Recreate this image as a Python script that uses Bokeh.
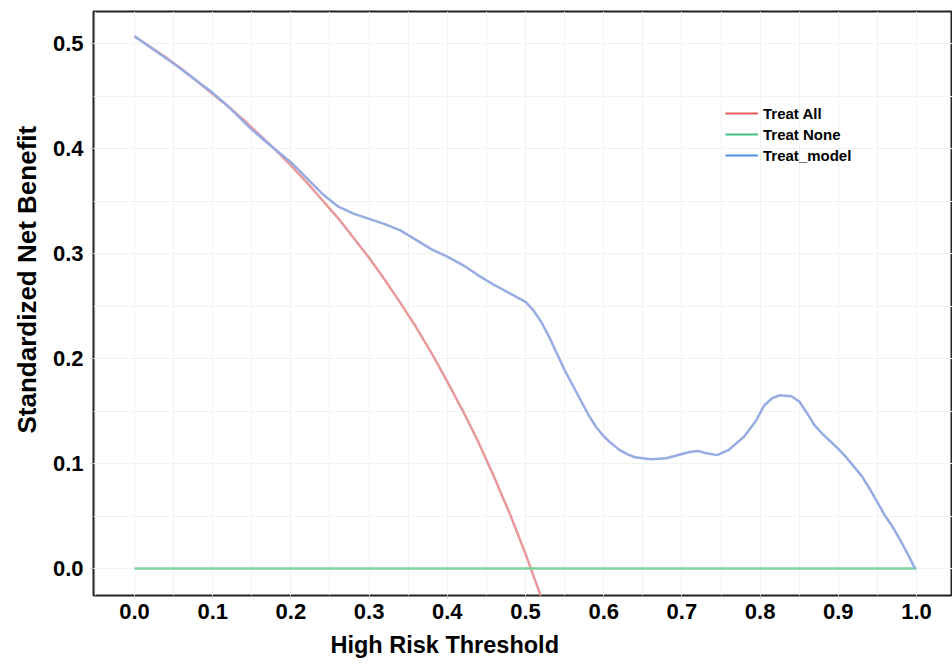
from bokeh.plotting import figure
from bokeh.models import (Range1d, FixedTicker, SingleIntervalTicker, NumeralTickFormatter,
                          Legend, LegendItem, Title)
from bokeh.embed import file_html
from bokeh.resources import INLINE
import math

# ---- data ----
all_t = [0.00, 0.02, 0.04, 0.06, 0.08, 0.10, 0.12, 0.14, 0.16, 0.18, 0.20, 0.22, 0.24,
         0.26, 0.28, 0.30, 0.32, 0.34, 0.36, 0.38, 0.40, 0.42, 0.44, 0.46, 0.48, 0.50, 0.52]
all_nb = [0.507, 0.497, 0.487, 0.476, 0.464, 0.452, 0.440, 0.427, 0.413, 0.399, 0.384,
          0.368, 0.351, 0.334, 0.315, 0.296, 0.275, 0.253, 0.230, 0.205, 0.178, 0.150,
          0.120, 0.087, 0.052, 0.014, -0.027]

none_t = [0.0, 1.0]
none_nb = [0.0, 0.0]

model_t = [0.00, 0.05, 0.10, 0.12, 0.15, 0.18, 0.20, 0.22, 0.24, 0.26, 0.28, 0.30, 0.32,
           0.34, 0.36, 0.38, 0.40, 0.42, 0.44, 0.46, 0.48, 0.50, 0.51, 0.52, 0.53, 0.54,
           0.55, 0.56, 0.57, 0.58, 0.59, 0.60, 0.61, 0.62, 0.63, 0.64, 0.66, 0.68, 0.70,
           0.71, 0.72, 0.73, 0.745, 0.76, 0.78, 0.795, 0.805, 0.815, 0.825, 0.84, 0.85,
           0.86, 0.87, 0.88, 0.89, 0.90, 0.91, 0.92, 0.93, 0.94, 0.95, 0.96, 0.97, 0.98,
           0.99, 0.998]
model_nb = [0.507, 0.481, 0.453, 0.440, 0.418, 0.399, 0.387, 0.372, 0.357, 0.345, 0.338,
            0.333, 0.328, 0.322, 0.313, 0.304, 0.297, 0.289, 0.279, 0.270, 0.262, 0.254,
            0.246, 0.235, 0.221, 0.205, 0.189, 0.175, 0.161, 0.147, 0.135, 0.126, 0.119,
            0.113, 0.109, 0.106, 0.104, 0.105, 0.109, 0.111, 0.112, 0.110, 0.108, 0.113,
            0.126, 0.141, 0.155, 0.162, 0.165, 0.164, 0.159, 0.148, 0.136, 0.128, 0.121,
            0.114, 0.106, 0.097, 0.088, 0.076, 0.063, 0.050, 0.039, 0.026, 0.012, 0.0]

x_ticks = [0.0, 0.1, 0.2, 0.3, 0.4, 0.5, 0.6, 0.7, 0.8, 0.9, 1.0]
y_ticks = [0.0, 0.1, 0.2, 0.3, 0.4, 0.5]
series_names = ["Treat All", "Treat None", "Treat_model"]
x_title = "High Risk Threshold"
y_title = "Standardized Net Benefit"

FONT = "Liberation Sans"

p = figure(width=952, height=665, output_backend="svg", toolbar_location=None,
           x_range=Range1d(-0.0524, 1.0460), y_range=Range1d(-0.0257, 0.5305),
           min_border_left=93, min_border_right=0, min_border_top=11, min_border_bottom=70)

p.background_fill_color = "white"
p.border_fill_color = "white"
p.outline_line_color = "#222222"
p.outline_line_width = 2

# grids
for g in (p.xgrid, p.ygrid):
    g.ticker = SingleIntervalTicker(interval=0.05)
    g.grid_line_color = "#f2f2f2"
    g.grid_line_width = 1

# axes
for axis, ticks in ((p.xaxis, x_ticks), (p.yaxis, y_ticks)):
    axis.ticker = FixedTicker(ticks=ticks)
    axis.formatter = NumeralTickFormatter(format="0.0")
    axis.axis_line_color = None
    axis.major_tick_line_color = "#c8c8c8"
    axis.major_tick_in = 0
    axis.major_tick_out = 3
    axis.minor_tick_line_color = None
    axis.major_label_text_font = FONT
    axis.major_label_text_font_style = "bold"
    axis.major_label_text_font_size = "22px"
    axis.major_label_text_color = "black"
p.xaxis.major_label_standoff = 5
p.yaxis.major_label_standoff = 7

# curves
p.line(all_t, all_nb, line_color="#e8999b", line_width=2.5)
p.line(none_t, none_nb, line_color="#7fd39b", line_width=2.5)
p.line(model_t, model_nb, line_color="#97ace2", line_width=2.5)

# legend (saturated colours as in reference)
leg_colors = ["#f0575a", "#45c07a", "#4a8fe0"]
items = []
for name, c in zip(series_names, leg_colors):
    r = p.line([math.nan, math.nan], [math.nan, math.nan], line_color=c, line_width=2)
    items.append(LegendItem(label=name, renderers=[r]))
legend = Legend(items=items, location=(632, 431), margin=0, padding=0,
                glyph_width=33, glyph_height=18, label_height=18, spacing=3,
                label_standoff=5, label_text_font=FONT, label_text_font_style="bold",
                label_text_font_size="15px", label_text_color="black",
                background_fill_alpha=0, border_line_alpha=0)
p.add_layout(legend, "center")

# axis titles
p.add_layout(Title(text=x_title, align="left", offset=237, standoff=16,
                   text_font=FONT, text_font_style="bold", text_font_size="23.5px",
                   text_color="black"), "below")
p.add_layout(Title(text=y_title, align="left", offset=162, standoff=16,
                   text_font=FONT, text_font_style="bold", text_font_size="26px",
                   text_color="black"), "left")

open("out.html", "w").write(file_html(p, INLINE))
